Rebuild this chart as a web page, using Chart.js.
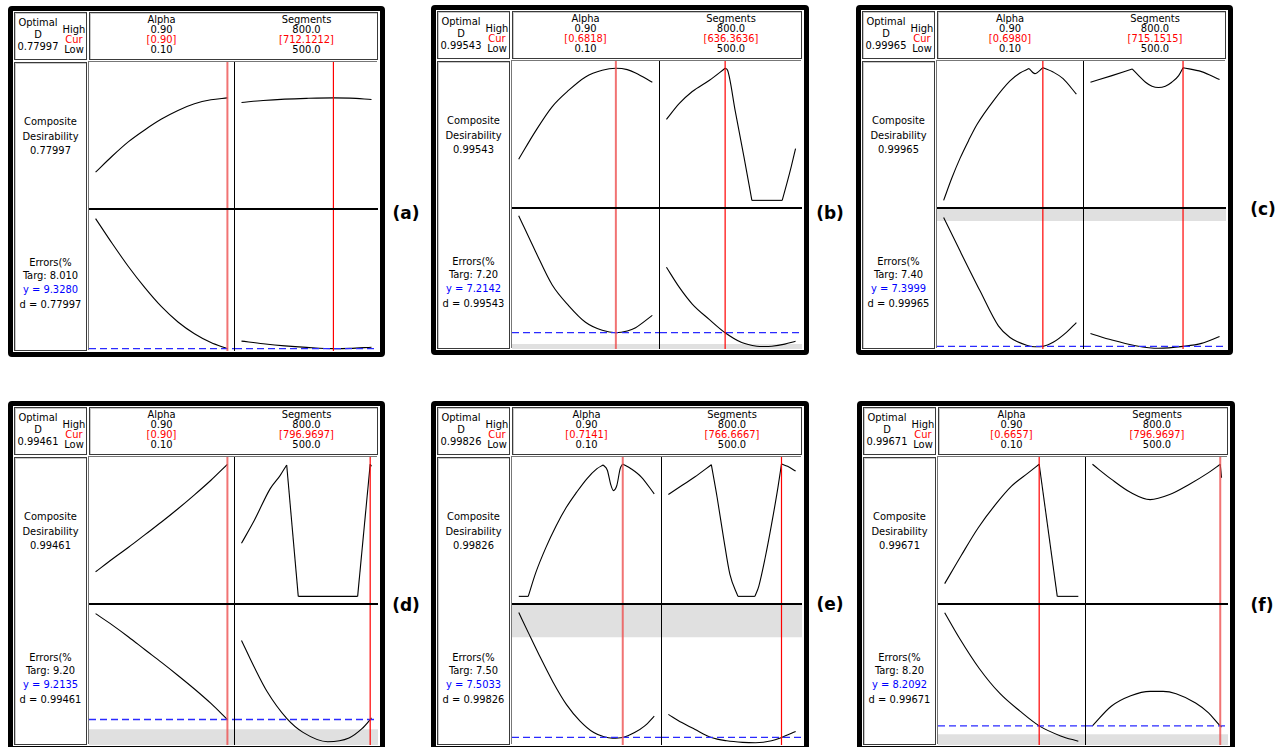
<!DOCTYPE html>
<html><head><meta charset="utf-8">
<script src="https://cdn.jsdelivr.net/npm/chart.js@4.4.1/dist/chart.umd.min.js"></script>
<style>
html,body{margin:0;padding:0;background:#fff;width:1281px;height:747px;overflow:hidden;font-family:'DejaVu Sans Condensed','DejaVu Sans',sans-serif;}
#root{position:relative;width:1281px;height:747px;}
.panel{position:absolute;box-sizing:border-box;border:5px solid #000;border-radius:4px;background:#fff;}
.box{position:absolute;box-sizing:border-box;border:1px solid #3a3a3a;box-shadow:inset 1px 1px 0 #c8c8c8;}
.plot{position:absolute;box-shadow:-1px -1px 0 #777;background:#fff;}
.t{position:absolute;white-space:nowrap;transform:translate(-50%,-50%);font-family:'DejaVu Sans Condensed','DejaVu Sans',sans-serif;font-stretch:semi-condensed;font-size:11px;line-height:11px;color:#000;}
.tag{position:absolute;white-space:nowrap;transform:translate(-50%,-50%);font-family:'DejaVu Sans',sans-serif;font-weight:bold;font-size:17px;line-height:17px;color:#000;}
canvas{position:absolute;display:block;}
.ln{position:absolute;background:#000;}
</style></head>
<body><div id="root"></div>
<script>
// ---------------- DATA ----------------
const panelTags   = ['(a)','(b)','(c)','(d)','(e)','(f)'];
const optimalD    = ['0.77997','0.99543','0.99965','0.99461','0.99826','0.99671'];
const factorNames = ['Alpha','Segments'];
const alphaRange  = [0.10, 0.90];
const segRange    = [500, 800];
const alphaHighLabel = '0.90', alphaLowLabel = '0.10';
const segHighLabel   = '800.0', segLowLabel  = '500.0';
const alphaCur      = [0.90, 0.6818, 0.6980, 0.90, 0.7141, 0.6657];
const alphaCurLabel = ['[0.90]','[0.6818]','[0.6980]','[0.90]','[0.7141]','[0.6657]'];
const segCur        = [712.1212, 636.3636, 715.1515, 796.9697, 766.6667, 796.9697];
const segCurLabel   = ['[712.1212]','[636.3636]','[715.1515]','[796.9697]','[766.6667]','[796.9697]'];
const targLabel     = ['8.010','7.20','7.40','9.20','7.50','8.20'];
const yValue        = [9.3280, 7.2142, 7.3999, 9.2135, 7.5033, 8.2092];
const yLabel        = ['9.3280','7.2142','7.3999','9.2135','7.5033','8.2092'];
const desirAxis     = [-0.05, 1.05];
const errAxisLo     = [9.13, 6.28, 7.25, 8.12, 7.07, 7.39];
const errAxisHi     = [21.13, 14.28, 15.25, 14.12, 15.07, 13.39];
const errBoundLow   = [null, 6.56, null, 8.80, null, 7.855];
const errBoundHigh  = [null, null, 14.57, null, 13.23, null];

// Composite desirability vs Alpha
const a_dAlpha = [[0.10,0.22],[0.20,0.34],[0.30,0.45],[0.40,0.54],[0.50,0.62],[0.60,0.685],[0.70,0.735],[0.80,0.765],[0.90,0.78]];
const b_dAlpha = [[0.10,0.31],[0.20,0.52],[0.30,0.705],[0.40,0.83],[0.50,0.93],[0.60,0.98],[0.6818,0.995],[0.75,0.985],[0.80,0.96],[0.90,0.89]];
const c_dAlpha = [[0.10,0.0],[0.15,0.17],[0.20,0.32],[0.25,0.45],[0.30,0.57],[0.40,0.75],[0.50,0.9],[0.56,0.96],[0.615,0.993],[0.65,0.955],[0.698,0.9997],[0.76,0.967],[0.82,0.917],[0.90,0.80]];
const d_dAlpha = [[0.10,0.185],[0.20,0.28],[0.30,0.37],[0.40,0.465],[0.50,0.56],[0.60,0.66],[0.70,0.765],[0.80,0.875],[0.90,0.995]];
const e_dAlpha = [[0.10,0],[0.156,0],[0.20,0.177],[0.26,0.367],[0.321,0.532],[0.381,0.671],[0.442,0.785],[0.502,0.886],[0.562,0.962],[0.598,0.99],[0.623,0.95],[0.643,0.843],[0.659,0.797],[0.679,0.835],[0.699,0.962],[0.7141,0.998],[0.763,0.962],[0.824,0.899],[0.90,0.772]];
const f_dAlpha = [[0.10,0.096],[0.20,0.31],[0.30,0.515],[0.40,0.685],[0.50,0.83],[0.60,0.93],[0.6657,0.995],[0.774,0],[0.90,0]];
// Composite desirability vs Segments
const a_dSeg = [[500,0.745],[550,0.76],[600,0.77],[650,0.776],[712.12,0.78],[750,0.778],[800,0.768]];
const b_dSeg = [[500,0.61],[530,0.73],[560,0.82],[600,0.905],[636.36,0.995],[642,0.98],[660,0.67],[680,0.33],[698.5,0],[769,0],[780,0.13],[790,0.255],[800,0.39]];
const c_dSeg = [[500,0.89],[550,0.94],[597,0.99],[612,0.94],[628,0.89],[643,0.86],[658,0.85],[674,0.86],[689,0.89],[705,0.94],[715.15,0.9997],[758,0.97],[800,0.91]];
const d_dSeg = [[500,0.40],[530,0.575],[566,0.81],[589,0.91],[604.3,0.99],[631,0],[768,0],[796.97,0.995],[800,0.98]];
const e_dSeg = [[500,0.767],[531.7,0.835],[562,0.899],[601.3,0.992],[614.9,0.747],[630,0.443],[645.1,0.165],[664,0],[704,0],[713.1,0.076],[728.2,0.291],[743.3,0.544],[758.4,0.823],[766.67,0.998],[781,0.98],[800,0.944]];
const f_dSeg = [[500,0.995],[543.7,0.883],[589,0.782],[634,0.729],[679.4,0.767],[724.6,0.843],[769.8,0.932],[796.97,0.995],[800,0.894]];
// Errors(%) vs Alpha
const a_eAlpha = [[0.10,20.4],[0.20,18.3],[0.30,16.3],[0.40,14.5],[0.50,12.9],[0.60,11.6],[0.70,10.6],[0.80,9.85],[0.90,9.33]];
const b_eAlpha = [[0.10,13.9],[0.20,11.87],[0.30,9.95],[0.40,8.75],[0.50,7.81],[0.60,7.35],[0.6818,7.21],[0.75,7.31],[0.80,7.50],[0.90,8.2]];
const c_eAlpha = [[0.10,14.76],[0.20,12.83],[0.32,10.56],[0.43,8.57],[0.50,7.91],[0.60,7.47],[0.65,7.38],[0.698,7.40],[0.76,7.63],[0.84,8.2],[0.90,8.76]];
const d_eAlpha = [[0.10,13.75],[0.20,13.27],[0.30,12.75],[0.40,12.2],[0.50,11.66],[0.60,11.1],[0.70,10.52],[0.80,9.9],[0.90,9.21]];
const e_eAlpha = [[0.10,14.64],[0.16,13.42],[0.221,12.2],[0.301,10.69],[0.382,9.38],[0.462,8.44],[0.543,7.78],[0.603,7.54],[0.653,7.46],[0.7141,7.50],[0.784,7.78],[0.844,8.16],[0.90,8.72]];
const f_eAlpha = [[0.10,13.06],[0.185,12.01],[0.307,10.67],[0.429,9.61],[0.551,8.84],[0.6657,8.21],[0.794,7.78],[0.90,7.55]];
// Errors(%) vs Segments
const a_eSeg = [[500,9.97],[550,9.75],[600,9.57],[650,9.44],[712.12,9.33],[750,9.35],[800,9.45]];
const b_eSeg = [[500,10.95],[530,9.8],[560,8.85],[600,7.96],[636.36,7.21],[675,6.65],[710,6.44],[727,6.42],[745,6.44],[775,6.56],[800,6.72]];
const c_eSeg = [[500,8.14],[550,7.76],[605,7.44],[658,7.29],[715.15,7.40],[758,7.57],[800,7.97]];
const d_eSeg = [[500,12.6],[529,11.47],[559,10.41],[604.3,9.26],[642,8.66],[699,8.26],[748,8.42],[778,8.82],[796.97,9.21],[800,9.28]];
const e_eSeg = [[500,8.82],[531.7,8.35],[562,7.97],[601.3,7.50],[637.5,7.31],[675.3,7.22],[705.5,7.20],[743.3,7.31],[766.67,7.50],[800,7.84]];
const f_eSeg = [[500,8.21],[543.7,9.05],[589,9.50],[634,9.69],[664,9.69],[694.5,9.59],[739.7,9.19],[769.8,8.77],[796.97,8.21],[800,8.16]];
// sharp corners (x positions) in the desirability curves
const dAlphaKinks = [[], [], [0.615,0.698], [], [0.156,0.598,0.7141], [0.6657,0.774]];
const dSegKinks   = [[], [636.36,698.5,769], [597,715.15], [604.3,631,768,796.97], [601.3,664,704,766.67], [796.97]];

const dAlphaCurves = [a_dAlpha,b_dAlpha,c_dAlpha,d_dAlpha,e_dAlpha,f_dAlpha];
const dSegCurves   = [a_dSeg,b_dSeg,c_dSeg,d_dSeg,e_dSeg,f_dSeg];
const eAlphaCurves = [a_eAlpha,b_eAlpha,c_eAlpha,d_eAlpha,e_eAlpha,f_eAlpha];
const eSegCurves   = [a_eSeg,b_eSeg,c_eSeg,d_eSeg,e_eSeg,f_eSeg];

// ---------------- LAYOUT / STYLE ----------------
const panelLeft = [8,431,856,8,431,857];
const panelTop  = [6,5,5,401,401,401];
const panelW    = [377,378,377,377,378,378];
const panelH    = [351,350,350,350,350,350];
const leftCellW = [145,147,146,145,149,147];
const tagX = [406,830,1263,406,830,1262];
const tagY = [213,213,209,605,604,605];
const softCurCol = ['alpha','alpha',null,'alpha','alpha','seg'];

const root = document.getElementById('root');
function el(parent, cls, x, y, w, h){
  const d = document.createElement('div'); d.className = cls;
  d.style.left = x+'px'; d.style.top = y+'px';
  if (w!=null) d.style.width = w+'px';
  if (h!=null) d.style.height = h+'px';
  parent.appendChild(d); return d;
}
function txt(parent, x, y, s, color){
  const d = el(parent, 't', x, y); d.textContent = s; if (color) d.style.color = color; return d;
}
function pad(r){ const p = (r[1]-r[0])*0.05; return [r[0]-p, r[1]+p]; }
function pieces(pts, kinks){
  const out = []; let cur = [];
  pts.forEach(p => { cur.push(p); if (kinks.includes(p[0]) && cur.length > 1){ out.push(cur); cur = [p]; } });
  if (cur.length > 1) out.push(cur);
  return out;
}
function curveSets(pts, kinks){
  return pieces(pts, kinks).map(pc => ({
    data: pc.map(q => ({x:q[0], y:q[1]})), borderColor:'#000', borderWidth:1.1,
    pointRadius:0, fill:false, cubicInterpolationMode:'monotone', order:2
  }));
}
function vline(xv, yr, soft){
  return {data:[{x:xv,y:yr[0]},{x:xv,y:yr[1]}], borderColor: soft ? 'rgba(238,80,80,0.8)' : '#ff0000',
          borderWidth: soft ? 2 : 1.2, pointRadius:0, fill:false, order:0};
}
function hdash(yv, xr){
  return {data:[{x:xr[0],y:yv},{x:xr[1],y:yv}], borderColor:'#2a2aff', borderWidth:1.4,
          borderDash:[7,4], pointRadius:0, fill:false, order:1};
}
function band(b, xr, mode){
  return {data:[{x:xr[0],y:b},{x:xr[1],y:b}], borderColor:'rgba(0,0,0,0)', borderWidth:0,
          backgroundColor:'#e0e0e0', fill:mode, pointRadius:0, order:5};
}
function makeCell(parent, x, y, w, h, xr, yr, datasets){
  const c = document.createElement('canvas');
  c.width = w; c.height = h;
  c.style.left = x+'px'; c.style.top = y+'px'; c.style.width = w+'px'; c.style.height = h+'px';
  parent.appendChild(c);
  new Chart(c, {type:'line', data:{datasets},
    options:{responsive:false, maintainAspectRatio:false, animation:false, devicePixelRatio:1, events:[],
      layout:{padding:0}, plugins:{legend:{display:false}, tooltip:{enabled:false}},
      scales:{x:{type:'linear', display:false, min:xr[0], max:xr[1]},
              y:{type:'linear', display:false, min:yr[0], max:yr[1]}},
      elements:{point:{radius:0}}}});
}

const xrA = pad(alphaRange), xrS = pad(segRange);

for (let i = 0; i < 6; i++){
  const W = panelW[i], H = panelH[i];
  const p = el(root, 'panel', panelLeft[i], panelTop[i], W, H);
  const cw = W - 10, ch = H - 10;
  const plotW = cw - 78, plotH = ch - 52;
  el(p, 'box', 1, 1, 73, 48);
  el(p, 'box', 76, 1, plotW, 48);
  el(p, 'box', 1, 51, 73, ch - 52);
  // header left
  txt(p, 25, 11, 'Optimal'); txt(p, 25, 23, 'D'); txt(p, 25, 35, optimalD[i]);
  txt(p, 61, 18, 'High'); txt(p, 61, 28, 'Cur', '#ff0000'); txt(p, 61, 38, 'Low');
  // header right
  const lw = leftCellW[i], rw = plotW - lw - 1;
  const cxA = 76 + lw/2, cxS = 76 + lw + 1 + rw/2;
  txt(p, cxA, 7.5, factorNames[0]); txt(p, cxA, 18, alphaHighLabel);
  txt(p, cxA, 28, alphaCurLabel[i], '#ff0000'); txt(p, cxA, 38, alphaLowLabel);
  txt(p, cxS, 7.5, factorNames[1]); txt(p, cxS, 18, segHighLabel);
  txt(p, cxS, 28, segCurLabel[i], '#ff0000'); txt(p, cxS, 38, segLowLabel);
  // left labels
  txt(p, 37.5, 110, 'Composite'); txt(p, 37.5, 124.5, 'Desirability'); txt(p, 37.5, 138.5, optimalD[i]);
  txt(p, 37.5, 250.5, 'Errors(%'); txt(p, 37.5, 264, 'Targ: ' + targLabel[i]);
  txt(p, 37.5, 278, 'y = ' + yLabel[i], '#0000ff'); txt(p, 37.5, 292.5, 'd = ' + optimalD[i]);

  // plot area
  const pl = el(p, 'plot', 76, 51, plotW, plotH);
  const topH = 146, botY = 148, botH = plotH - 148;
  const yrD = desirAxis, yrE = [errAxisLo[i], errAxisHi[i]];
  const softA = softCurCol[i] === 'alpha', softS = softCurCol[i] === 'seg';
  makeCell(pl, 0, 0, lw, topH, xrA, yrD, [...curveSets(dAlphaCurves[i], dAlphaKinks[i]), vline(alphaCur[i], yrD, softA)]);
  makeCell(pl, lw+1, 0, rw, topH, xrS, yrD, [...curveSets(dSegCurves[i], dSegKinks[i]), vline(segCur[i], yrD, softS)]);
  const extraA = [], extraS = [];
  if (errBoundLow[i] != null){ extraA.push(band(errBoundLow[i], xrA, 'start')); extraS.push(band(errBoundLow[i], xrS, 'start')); }
  if (errBoundHigh[i] != null){ extraA.push(band(errBoundHigh[i], xrA, 'end')); extraS.push(band(errBoundHigh[i], xrS, 'end')); }
  makeCell(pl, 0, botY, lw, botH, xrA, yrE, [...extraA, ...curveSets(eAlphaCurves[i], []), hdash(yValue[i], xrA), vline(alphaCur[i], yrE, softA)]);
  makeCell(pl, lw+1, botY, rw, botH, xrS, yrE, [...extraS, ...curveSets(eSegCurves[i], []), hdash(yValue[i], xrS), vline(segCur[i], yrE, softS)]);
  el(pl, 'ln', lw, 0, 1, plotH);
  el(pl, 'ln', 0, topH, plotW, 2);

  const tg = el(root, 'tag', tagX[i], tagY[i]); tg.textContent = panelTags[i];
}
</script></body></html>
